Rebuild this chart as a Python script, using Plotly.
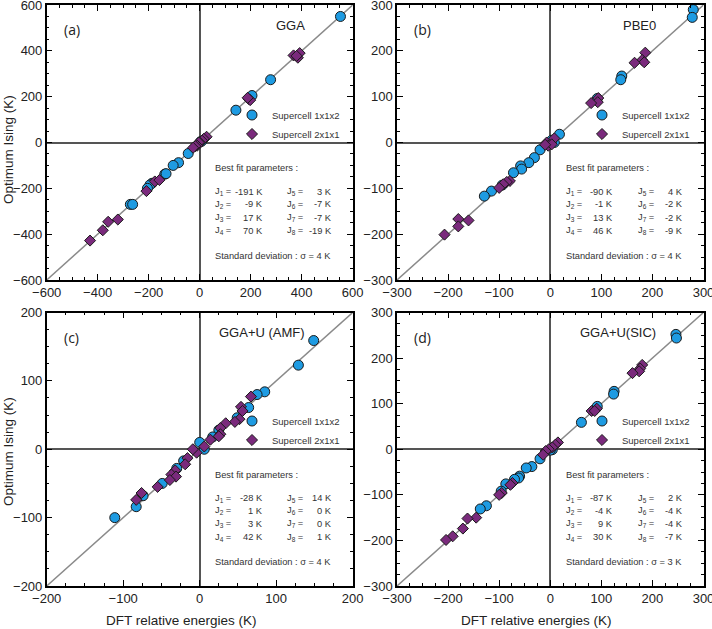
import plotly.graph_objects as go

# ---------------- data ----------------
# Panel (a) GGA
a_blue_x = [552, 278, 205, 142, 3, 8, -45, -83, -104, -137, -132, -187, -195, -205, -272, -263]
a_blue_y = [550, 274, 205, 141, 3, 6, -48, -88, -100, -138, -136, -178, -185, -200, -270, -270]
a_purp_x = [368, 385, 392, 380, 192, 198, 188, 27, 16, 9, 0, -4, -10, -17, -26, -176, -158, -209, -321, -359, -380, -430]
a_purp_y = [380, 370, 390, 378, 190, 185, 195, 25, 16, 8, 0, 0, -14, -16, -23, -170, -164, -212, -336, -346, -383, -428]

# Panel (b) PBE0
b_blue_x = [280, 278, 140, 138, 92, 18, 8, 3, -20, -31, -42, -58, -56, -72, -94, -115, -129]
b_blue_y = [290, 273, 145, 137, 96, 18, 0, 5, -16, -33, -44, -51, -58, -66, -93, -106, -117]
b_purp_x = [186, 180, 184, 165, 94, 93, 80, 8, -7, -4, 3, -10, -79, -85, -92, -100, -160, -180, -180, -207]
b_purp_y = [196, 180, 175, 174, 97, 88, 86, 9, 0, -7, -4, -5, -84, -86, -91, -99, -170, -167, -183, -201]

# Panel (c) GGA+U (AMF)
c_blue_x = [149, 129, 85, 75, 64, 49, 25, 17, 0, 6, -21, -30, -49, -74, -83, -111]
c_blue_y = [159, 123, 84, 80, 61, 46, 28, 18, 10, 0, -17, -28, -50, -68, -84, -100]
c_purp_x = [67, 54, 56, 52, 46, 34, 27, 27, 25, 14, 6, -4, -9, -16, -19, -32, -37, -31, -39, -55, -76, -83]
c_purp_y = [77, 62, 56, 44, 40, 38, 31, 22, 19, 14, 4, -5, 0, -13, -22, -31, -37, -40, -45, -55, -64, -74]

# Panel (d) GGA+U(SIC)
d_blue_x = [246, 247, 125, 124, 92, 61, 4, 0, -20, -36, -47, -60, -62, -70, -87, -96, -125, -137]
d_blue_y = [252, 244, 127, 121, 94, 59, -1, -2, -21, -38, -41, -59, -63, -66, -76, -92, -124, -131]
d_purp_x = [180, 176, 174, 161, 91, 81, 87, 15, 10, 4, -3, -9, -14, -74, -78, -95, -100, -145, -162, -171, -191, -204]
d_purp_y = [185, 177, 171, 167, 89, 84, 84, 15, 10, 4, 0, -4, -12, -74, -78, -96, -100, -150, -152, -174, -191, -199]

panel_labels = ["(a)", "(b)", "(c)", "(d)"]
method_labels = ["GGA", "PBE0", "GGA+U (AMF)", "GGA+U(SIC)"]
axis_ranges = [600, 300, 200, 300]
major_steps = [200, 100, 100, 100]
minor_steps = [50, 25, 25, 25]

j_left_names = ["J<sub>1</sub> =", "J<sub>2</sub> =", "J<sub>3</sub> =", "J<sub>4</sub> ="]
j_right_names = ["J<sub>5</sub> =", "J<sub>6</sub> =", "J<sub>7</sub> =", "J<sub>8</sub> ="]
j_values = [
    [-191, -9, 17, 70, 3, -7, -7, -19],
    [-90, -1, 13, 46, 4, -2, -2, -9],
    [-28, 1, 3, 42, 14, 0, 0, 1],
    [-87, -4, 9, 30, 2, -4, -4, -7],
]
sigmas = [4, 4, 4, 3]

series_names = ["Supercell 1x1x2", "Supercell 2x1x1"]

panels = [
    (a_blue_x, a_blue_y, a_purp_x, a_purp_y),
    (b_blue_x, b_blue_y, b_purp_x, b_purp_y),
    (c_blue_x, c_blue_y, c_purp_x, c_purp_y),
    (d_blue_x, d_blue_y, d_purp_x, d_purp_y),
]

# ---------------- layout geometry ----------------
W, H = 712, 629
xdomains = [[46.7 / W, 352.7 / W], [397 / W, 703.5 / W]] * 2
ydom_top = [1 - 280 / H, 1 - 5 / H]
ydom_bot = [1 - 586 / H, 1 - 312.5 / H]
ydomains = [ydom_top, ydom_top, ydom_bot, ydom_bot]
legend_pos = [(232 / W, 1 - 124.5 / H), (582 / W, 1 - 124.5 / H),
              (232 / W, 1 - 430.5 / H), (582 / W, 1 - 430.5 / H)]

BLUE = "#1E9BE2"
PURPLE = "#7A2A7C"
FONT = "Liberation Sans, Arial, sans-serif"
TXT = "#333333"
BOXF = 9.3

fig = go.Figure()
annotations = []
shapes = []
layout = dict(
    width=W, height=H, margin=dict(l=0, r=0, t=0, b=0, autoexpand=False),
    paper_bgcolor="white", plot_bgcolor="white",
    font=dict(family=FONT, color="#222", size=13),
    showlegend=True,
)

for i in range(4):
    sfx = "" if i == 0 else str(i + 1)
    xa, ya = "x" + sfx, "y" + sfx
    leg = "legend" + sfx
    bx, by, px, py = panels[i]
    fig.add_trace(go.Scatter(
        x=bx, y=by, mode="markers", name=series_names[0], xaxis=xa, yaxis=ya, legend=leg,
        marker=dict(symbol="circle", size=10, color=BLUE, line=dict(color="#1a1a1a", width=1)),
    ))
    fig.add_trace(go.Scatter(
        x=px, y=py, mode="markers", name=series_names[1], xaxis=xa, yaxis=ya, legend=leg,
        marker=dict(symbol="diamond", size=8.5, color=PURPLE, line=dict(color="#1a1a1a", width=1)),
    ))

    R = axis_ranges[i]
    common = dict(
        range=[-R, R], dtick=major_steps[i], tick0=0, ticks="inside", ticklen=6, tickwidth=1,
        tickcolor="black", showline=True, linecolor="black", linewidth=1.5, mirror="ticks",
        showgrid=False, zeroline=True, zerolinecolor="#555", zerolinewidth=1.5,
        tickfont=dict(size=13, family=FONT, color="#222"), automargin=False,
        ticklabeloverflow="allow",
        minor=dict(dtick=minor_steps[i], tick0=0, ticks="inside", ticklen=3, tickcolor="black", tickwidth=1, showgrid=False),
    )
    layout["xaxis" + sfx] = dict(common, domain=xdomains[i], anchor=ya)
    layout["yaxis" + sfx] = dict(common, domain=ydomains[i], anchor=xa)

    # diagonal y = x
    shapes.append(dict(type="line", xref=xa, yref=ya, x0=-R, y0=-R, x1=R, y1=R,
                       line=dict(color="#8a8a8a", width=1.5), layer="below"))

    xd, yd = xa + " domain", ya + " domain"
    annotations.append(dict(text=panel_labels[i], xref=xd, yref=yd, x=0.05, y=0.91,
                            xanchor="left", yanchor="middle", showarrow=False,
                            font=dict(family="Open Sans, sans-serif", size=14, color="#222")))
    annotations.append(dict(text=method_labels[i], xref=xd, yref=yd, x=0.852, y=0.927,
                            xanchor="right", yanchor="middle", showarrow=False,
                            font=dict(family=FONT, size=13, color="#222")))
    annotations.append(dict(text="Best fit parameters :", xref=xd, yref=yd, x=0.544, y=0.407,
                            xanchor="left", yanchor="middle", showarrow=False,
                            font=dict(family=FONT, size=BOXF, color=TXT)))
    rows_y = [0.321, 0.276, 0.227, 0.179]
    vals = j_values[i]
    for r in range(4):
        annotations.append(dict(text=j_left_names[r], xref=xd, yref=yd, x=0.544, y=rows_y[r],
                                xanchor="left", yanchor="middle", showarrow=False,
                                font=dict(family=FONT, size=BOXF, color=TXT)))
        annotations.append(dict(text=f"{vals[r]} K", xref=xd, yref=yd, x=0.712, y=rows_y[r],
                                xanchor="right", yanchor="middle", showarrow=False,
                                font=dict(family=FONT, size=BOXF, color=TXT)))
        annotations.append(dict(text=j_right_names[r], xref=xd, yref=yd, x=0.779, y=rows_y[r],
                                xanchor="left", yanchor="middle", showarrow=False,
                                font=dict(family=FONT, size=BOXF, color=TXT)))
        annotations.append(dict(text=f"{vals[r + 4]} K", xref=xd, yref=yd, x=0.939, y=rows_y[r],
                                xanchor="right", yanchor="middle", showarrow=False,
                                font=dict(family=FONT, size=BOXF, color=TXT)))
    annotations.append(dict(text=f"Standard deviation : σ = {sigmas[i]} K", xref=xd, yref=yd,
                            x=0.544, y=0.087, xanchor="left", yanchor="middle", showarrow=False,
                            font=dict(family=FONT, size=BOXF, color=TXT)))

    lx, ly = legend_pos[i]
    layout[leg] = dict(x=lx, y=ly, xanchor="left", yanchor="middle", xref="paper", yref="paper",
                       bgcolor="rgba(0,0,0,0)", font=dict(family=FONT, size=9.5, color=TXT),
                       itemwidth=30, tracegroupgap=0)

# axis titles
for ypix in (150, 452):
    annotations.append(dict(text="Optimum Ising (K)", xref="paper", yref="paper", x=8 / W, y=1 - ypix / H,
                            xanchor="center", yanchor="middle", textangle=-90, showarrow=False,
                            font=dict(family=FONT, size=13.5, color="#222")))
for xpix in (181, 536):
    annotations.append(dict(text="DFT relative energies (K)", xref="paper", yref="paper", x=xpix / W, y=1 - 620 / H,
                            xanchor="center", yanchor="middle", showarrow=False,
                            font=dict(family=FONT, size=13.5, color="#222")))

layout["annotations"] = annotations
layout["shapes"] = shapes
fig.update_layout(**layout)
fig.write_html("out.html")
